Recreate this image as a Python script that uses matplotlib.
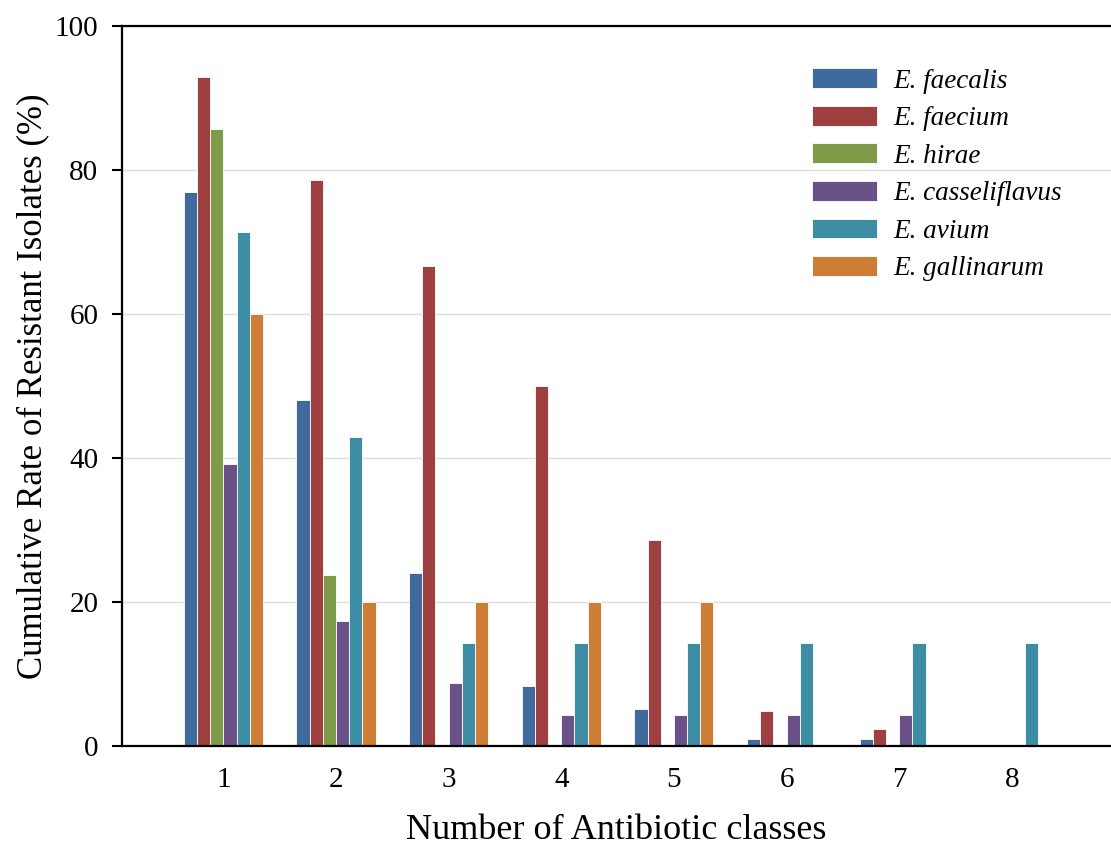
import matplotlib
matplotlib.use("Agg")
import matplotlib.pyplot as plt
import numpy as np

classes = [1, 2, 3, 4, 5, 6, 7, 8]
species = ["E. faecalis", "E. faecium", "E. hirae", "E. casseliflavus", "E. avium", "E. gallinarum"]
faecalis = [77.0, 48.0, 24.0, 8.4, 5.2, 1.0, 1.0, 0.0]
faecium = [92.9, 78.6, 66.7, 50.0, 28.6, 4.8, 2.4, 0.0]
hirae = [85.7, 23.8, 0.0, 0.0, 0.0, 0.0, 0.0, 0.0]
casseliflavus = [39.1, 17.4, 8.7, 4.35, 4.35, 4.35, 4.35, 0.0]
avium = [71.4, 42.9, 14.3, 14.3, 14.3, 14.3, 14.3, 14.3]
gallinarum = [60.0, 20.0, 20.0, 20.0, 20.0, 0.0, 0.0, 0.0]
colors = ["#3E6A9E", "#9E4040", "#7F9A48", "#6A5187", "#3D8DA5", "#CE7D35"]

series = [faecalis, faecium, hirae, casseliflavus, avium, gallinarum]

plt.rcParams["font.family"] = ["Liberation Serif", "DejaVu Serif"]

fig = plt.figure(figsize=(11.11, 8.49), dpi=100)
ax = fig.add_axes([122/1111, 103/849, 1 - 122/1111, (746-26)/849])

x = np.array(classes, dtype=float)
w = 0.117
n = len(series)
for i, (vals, lab, c) in enumerate(zip(series, species, colors)):
    offs = (i - (n - 1) / 2) * w
    ax.bar(x + offs, vals, width=w, color=c, edgecolor="white", linewidth=0.6,
           label=lab, zorder=3)

ax.set_xlim(0.1, 8.88)
ax.set_ylim(0, 100)
ax.set_yticks([0, 20, 40, 60, 80, 100])
ax.set_xticks(classes)
ax.yaxis.grid(True, color="#DDDDDD", linewidth=1.0, zorder=0)
ax.set_axisbelow(True)
ax.spines["right"].set_visible(False)
for s in ["left", "bottom", "top"]:
    ax.spines[s].set_linewidth(1.6)
    ax.spines[s].set_zorder(5)
ax.tick_params(axis="y", direction="out", length=7, width=1.5, labelsize=21, pad=10)
ax.tick_params(axis="x", length=0, labelsize=21, pad=15)

ax.set_xlabel("Number of Antibiotic classes", fontsize=26, labelpad=15)
ax.set_ylabel("Cumulative Rate of Resistant Isolates (%)", fontsize=25, labelpad=4)

leg = ax.legend(loc="upper right", bbox_to_anchor=(0.975, 0.975), frameon=False,
                prop={"style": "italic", "size": 19.5}, handlelength=2.4,
                handleheight=0.75, labelspacing=0.45, handletextpad=0.6)

fig.savefig("out.png", dpi=100)
